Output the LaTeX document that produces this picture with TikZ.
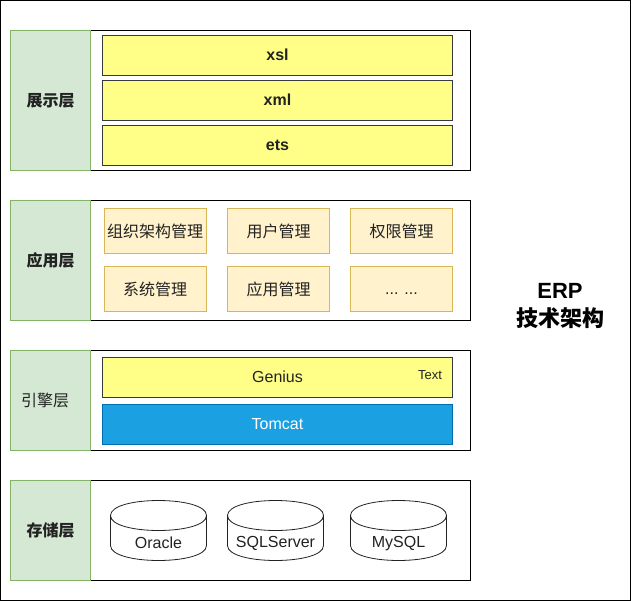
\documentclass[tikz,border=0pt]{standalone}
\usepackage{fontspec}
\setmainfont{Liberation Sans}
\newfontfamily\cjk{Noto Sans CJK SC}
\newcommand{\lb}{\rule[-1pt]{0pt}{12.5pt}}
\definecolor{greenfill}{HTML}{D5E8D4}
\definecolor{greenline}{HTML}{82B366}
\definecolor{orangefill}{HTML}{FFF2CC}
\definecolor{orangeline}{HTML}{D6B656}
\definecolor{yellowfill}{HTML}{FFFF88}
\definecolor{yellowline}{HTML}{36393D}
\definecolor{bluefill}{HTML}{1BA1E2}
\definecolor{blueline}{HTML}{006EAF}
\definecolor{txt}{HTML}{222222}
\tikzset{
  every node/.style={inner sep=0pt,outer sep=0pt,text=txt},
  boxline/.style={line width=0.8pt},
  layerlabel/.style={boxline,draw=greenline,fill=greenfill,anchor=north west,minimum width=80pt,font=\cjk\fontsize{16}{18}\selectfont\bfseries},
  layerlabelplain/.style={layerlabel,font=\cjk\fontsize{16}{18}\selectfont},
  layerbody/.style={boxline,draw=black,fill=white,anchor=north west,minimum width=380pt},
  yellowbar/.style={boxline,draw=yellowline,fill=yellowfill,anchor=north west,minimum width=350pt,minimum height=40pt},
  bluebar/.style={boxline,draw=blueline,fill=bluefill,anchor=north west,minimum width=350pt,minimum height=40pt,text=white,font=\fontsize{16}{18}\selectfont},
  modulebox/.style={boxline,draw=orangeline,fill=orangefill,anchor=north west,minimum width=102pt,minimum height=45pt,font=\cjk\fontsize{16}{18}\selectfont},
  barbold/.style={font=\fontsize{16}{18}\selectfont\bfseries},
  cyllabel/.style={font=\fontsize{16}{18}\selectfont},
  cylshape/.style={line width=0.8pt,draw=txt,fill=white}
}
\newcommand{\cylinderat}[1]{%
  \draw[cylshape] (#1,515.5) .. controls (#1,495.5) and ({#1+96},495.5) .. ({#1+96},515.5)
    -- ({#1+96},545.5) .. controls ({#1+96},565.5) and (#1,565.5) .. (#1,545.5) -- cycle;
  \draw[cylshape,fill=none] (#1,515.5) .. controls (#1,535.5) and ({#1+96},535.5) .. ({#1+96},515.5);
}
\begin{document}
\begin{tikzpicture}[x=1pt,y=-1pt]
\useasboundingbox (0,0) rectangle (631,601);
\fill[white] (0,0) rectangle (631,601);
\draw[line width=1pt,draw=black] (0.5,0.5) rectangle (630.5,600.5);

% presentation layer
\node[layerbody,minimum height=140pt] (showbody) at (90.5,30.5) {};
\node[layerlabel,minimum height=140pt] (show) at (10.5,30.5) {展示层};
\node[yellowbar,barbold] (xsl) at (102.5,35.5) {\lb xsl};
\node[yellowbar,barbold] (xml) at (102.5,80.5) {\lb xml};
\node[yellowbar,barbold] (ets) at (102.5,125.5) {\lb ets};

% application layer
\node[layerbody,minimum height=120pt] (appbody) at (90.5,200.5) {};
\node[layerlabel,minimum height=120pt] (app) at (10.5,200.5) {应用层};
\node[modulebox] (org) at (104,208.5) {组织架构管理};
\node[modulebox] (user) at (227.5,208.5) {用户管理};
\node[modulebox] (perm) at (350.5,208.5) {权限管理};
\node[modulebox] (sys) at (104,266.5) {系统管理};
\node[modulebox] (appm) at (227.5,266.5) {应用管理};
\node[modulebox,font=\fontsize{16}{18}\selectfont] (more) at (350.5,266.5) {\lb ... ...};

% engine layer
\node[layerbody,minimum height=100pt] (enginebody) at (90.5,350.5) {};
\node[layerlabelplain,minimum height=100pt,text width=80pt,align=left] (engine) at (10.5,350.5) {\hspace{10.5pt}引擎层};
\node[yellowbar,font=\fontsize{16}{18}\selectfont] (genius) at (102.5,357.5) {\lb Genius};
\node[font=\fontsize{13}{15}\selectfont] (gtext) at (430,375) {Text};
\node[bluebar] (tomcat) at (102.5,404.5) {\lb Tomcat};

% storage layer
\node[layerbody,minimum height=100pt] (storebody) at (90.5,480.5) {};
\node[layerlabel,minimum height=100pt] (store) at (10.5,480.5) {存储层};
\cylinderat{110.5}
\cylinderat{227.5}
\cylinderat{350.5}
\node[cyllabel] (oracle) at (158.5,543.5) {\lb Oracle};
\node[cyllabel] (sqlserver) at (275.5,543.5) {\lb SQLServer};
\node[cyllabel] (mysql) at (398.5,543.5) {\lb MySQL};

% title
\node[align=center,text=black,font=\fontsize{22}{28}\selectfont\bfseries] (title) at (560,306) {ERP\\{\cjk 技术架构}};
\end{tikzpicture}
\end{document}
